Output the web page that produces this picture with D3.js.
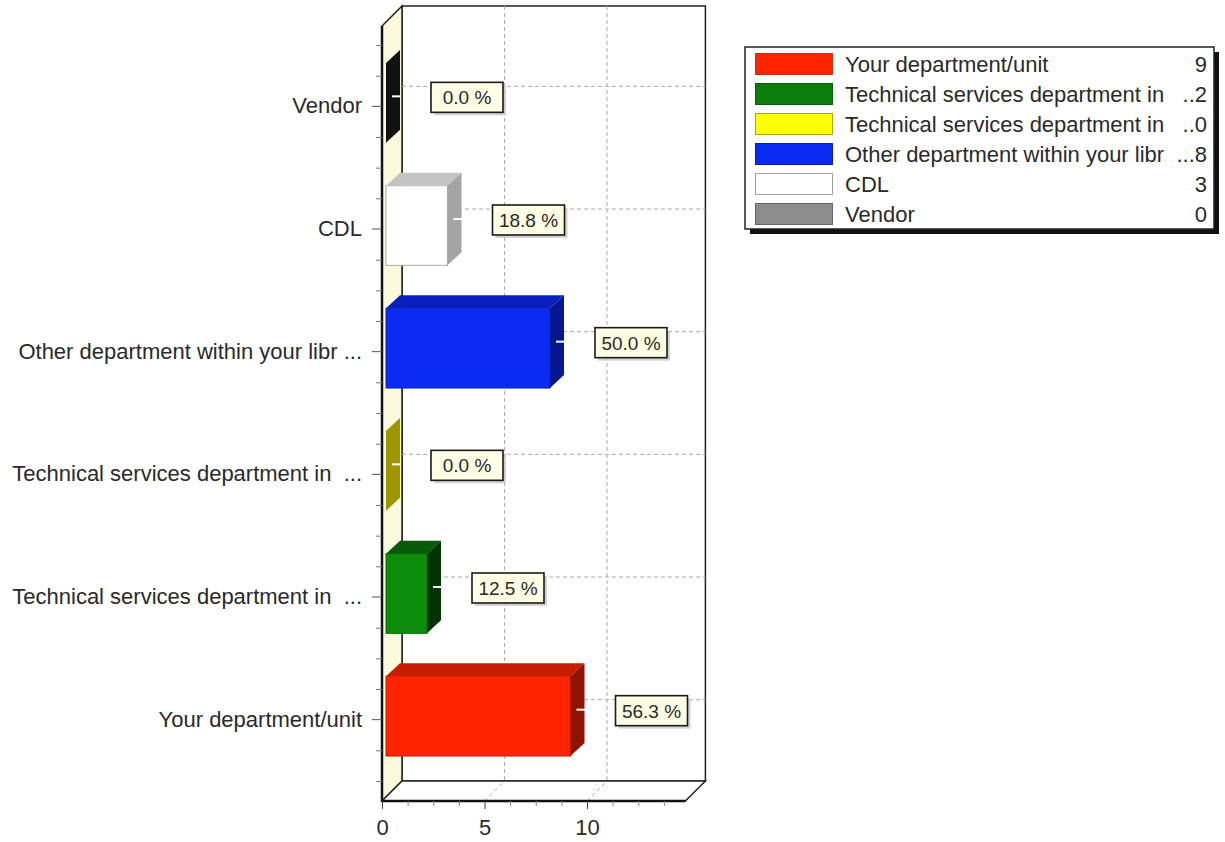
<!DOCTYPE html>
<html>
<head>
<meta charset="utf-8">
<script src="https://cdn.jsdelivr.net/npm/d3@7"></script>
<style>
  body { margin: 0; background: #fff; }
  text { font-family: "Liberation Sans", Arial, sans-serif; fill: #2a2a2a; white-space: pre; }
</style>
</head>
<body>
<div id="chart"></div>
<script>
// categories top to bottom, as on the axis
const categories = ["Vendor", "CDL", "Other department within your libr ...",
  "Technical services department in  ...", "Technical services department in  ...", "Your department/unit"];
const values = [0, 3, 8, 0, 2, 9];
const percentLabels = ["0.0 %", "18.8 %", "50.0 %", "0.0 %", "12.5 %", "56.3 %"];
const frontColors = ["#8a8a8a", "#ffffff", "#0a2cf2", "#ffff00", "#0b8c0b", "#ff2400"];
const topColors   = ["#222222", "#c4c4c4", "#0a1fc0", "#d8d000", "#075a07", "#c81c00"];
const sideColors  = ["#111111", "#a4a4a4", "#06168f", "#9e9600", "#033203", "#8f1300"];

// legend, in legend order
const legendNames = ["Your department/unit", "Technical services department in", "Technical services department in",
  "Other department within your libr", "CDL", "Vendor"];
const legendValues = ["9", "..2", "..0", "...8", "3", "0"];
const legendColors = ["#ff2400", "#0a7e0a", "#ffff00", "#0a2cf2", "#ffffff", "#8c8c8c"];
const legendStrokes = ["#c83010", "#0a5a0a", "#b0a800", "#0a1fa0", "#a0a0a0", "#666666"];

const xTicks = [0, 5, 10];

const width = 1225, height = 842;
const frontTop = 26, frontBottom = 801;
const depth = 20;        // wall depth
const barShift = { x: 4, y: -3.5 };  // bar front face inside the box
const barDepth = { x: 14, y: -13 };

const svg = d3.select("#chart").append("svg")
    .attr("width", width)
    .attr("height", height);

const idx = d3.range(categories.length);
const x = d3.scaleLinear().domain([0, 14.8]).range([382, 382 + 14.8 * 20.5]);
const y = d3.scaleBand().domain(idx).range([frontTop + depth - 1, frontBottom - depth]);
const yMinor = d3.scaleLinear().domain([0, categories.length]).range(y.range());

const xl = x.range()[0], xr = x.range()[1];

// back wall
svg.append("rect")
    .attr("x", xl + depth).attr("y", frontTop - depth)
    .attr("width", xr - xl).attr("height", frontBottom - frontTop)
    .attr("fill", "#fff").attr("stroke", "#222").attr("stroke-width", 1.5);

// left wall
svg.append("polygon")
    .attr("points", [[xl, frontTop], [xl + depth, frontTop - depth], [xl + depth, frontBottom - depth], [xl, frontBottom]].join(" "))
    .attr("fill", "#fdf9dc").attr("stroke", "#222").attr("stroke-width", 1.5);

// floor
svg.append("polygon")
    .attr("points", [[xl, frontBottom], [xl + depth, frontBottom - depth], [xr + depth, frontBottom - depth], [xr, frontBottom]].join(" "))
    .attr("fill", "#fff").attr("stroke", "#222").attr("stroke-width", 1.5);

const grid = svg.append("g")
    .attr("stroke", "#ababab").attr("stroke-dasharray", "4,3").attr("stroke-width", 1);

// vertical grid on back wall + floor
xTicks.filter(d => d > 0).forEach(function(d) {
    grid.append("line")
        .attr("x1", x(d) + depth).attr("x2", x(d) + depth)
        .attr("y1", frontTop - depth).attr("y2", frontBottom - depth);
    grid.append("line")
        .attr("x1", x(d)).attr("x2", x(d) + depth)
        .attr("y1", frontBottom).attr("y2", frontBottom - depth);
});

// horizontal grid on back wall
idx.forEach(function(i) {
    const cy = y(i) + y.bandwidth() / 2 - depth;
    grid.append("line")
        .attr("x1", xl + depth).attr("x2", xr + depth)
        .attr("y1", cy).attr("y2", cy);
});

// front edges
svg.append("line").attr("x1", xl).attr("x2", xl).attr("y1", frontTop).attr("y2", frontBottom)
    .attr("stroke", "#111").attr("stroke-width", 2.5);
svg.append("line").attr("x1", xl).attr("x2", xr).attr("y1", frontBottom).attr("y2", frontBottom)
    .attr("stroke", "#111").attr("stroke-width", 2.5);

// bars
const barH = y.bandwidth() * 0.65;
const bars = svg.append("g");
idx.forEach(function(i) {
    const cy = y(i) + y.bandwidth() / 2;
    const x0 = x(0) + barShift.x, x1 = x(values[i]) + barShift.x;
    const top = cy + barShift.y - barH / 2, bot = cy + barShift.y + barH / 2;
    const g = bars.append("g");

    if (x1 > x0) {
        g.append("rect")
            .attr("x", x0).attr("y", top)
            .attr("width", x1 - x0).attr("height", barH)
            .attr("fill", frontColors[i])
            .attr("stroke", i === 1 ? "#a8a8a8" : d3.color(frontColors[i]).darker(0.6))
            .attr("stroke-width", 1);
        g.append("polygon")
            .attr("points", [[x0, top], [x0 + barDepth.x, top + barDepth.y], [x1 + barDepth.x, top + barDepth.y], [x1, top]].join(" "))
            .attr("fill", topColors[i]);
    }
    g.append("polygon")
        .attr("points", [[x1, top], [x1 + barDepth.x, top + barDepth.y], [x1 + barDepth.x, bot + barDepth.y], [x1, bot]].join(" "))
        .attr("fill", sideColors[i]);

    // small white marker on side face
    const my = cy + barShift.y + barDepth.y / 2;
    g.append("line")
        .attr("x1", x1 + 6).attr("x2", x1 + 15)
        .attr("y1", my).attr("y2", my)
        .attr("stroke", "#fff").attr("stroke-width", 2);

    // value label
    const lx = x1 + 45, ly = cy - 9;
    const lab = g.append("g");
    const shadow = lab.append("rect").attr("fill", "#c8c8c8").attr("opacity", 0.8);
    const box = lab.append("rect").attr("fill", "#fffde3").attr("stroke", "#1a1a1a").attr("stroke-width", 1.6);
    const t = lab.append("text")
        .attr("y", ly).attr("dy", "0.36em")
        .attr("text-anchor", "middle")
        .style("font-size", "19px")
        .text(percentLabels[i]);
    const tw = Math.max(72, t.node().getComputedTextLength() + 10);
    t.attr("x", lx + tw / 2);
    box.attr("x", lx).attr("y", ly - 15).attr("width", tw).attr("height", 30);
    shadow.attr("x", lx + 3).attr("y", ly - 12).attr("width", tw).attr("height", 30);
});

// left axis
const yAxis = d3.axisLeft(y).tickSize(10).tickPadding(10).tickFormat(i => categories[i]);
const yAxisG = svg.append("g")
    .attr("transform", "translate(" + xl + ",0)")
    .call(yAxis);
yAxisG.select(".domain").remove();
yAxisG.selectAll("text").style("font-size", "22px").attr("fill", "#2a2a2a");
yAxisG.selectAll("line").attr("stroke", "#555");

const yMinorAxis = d3.axisLeft(yMinor)
    .tickValues(d3.range(0, categories.length + 0.01, 0.25).filter(d => d % 1 !== 0.5))
    .tickSize(6).tickFormat("");
const yMinorG = svg.append("g")
    .attr("transform", "translate(" + xl + ",0)")
    .call(yMinorAxis);
yMinorG.select(".domain").remove();
yMinorG.selectAll("line").attr("stroke", "#777");

// bottom axis
const xAxis = d3.axisBottom(x).tickValues(xTicks).tickSize(8).tickPadding(10).tickFormat(d3.format("d"));
const xAxisG = svg.append("g")
    .attr("transform", "translate(0," + frontBottom + ")")
    .call(xAxis);
xAxisG.select(".domain").remove();
xAxisG.selectAll("text").style("font-size", "22px").attr("fill", "#2a2a2a");
xAxisG.selectAll("line").attr("stroke", "#444");

const xMinorAxis = d3.axisBottom(x)
    .tickValues(d3.range(0, 14, 1.25).filter(d => d % 5 !== 0))
    .tickSize(5).tickFormat("");
const xMinorG = svg.append("g")
    .attr("transform", "translate(0," + frontBottom + ")")
    .call(xMinorAxis);
xMinorG.select(".domain").remove();
xMinorG.selectAll("line").attr("stroke", "#888");

// legend
const legend = svg.append("g").attr("transform", "translate(745,47)");
const lw = 469, lh = 182;
legend.append("rect").attr("x", 5).attr("y", 5).attr("width", lw).attr("height", lh).attr("fill", "#111");
legend.append("rect").attr("width", lw).attr("height", lh)
    .attr("fill", "#fff").attr("stroke", "#222").attr("stroke-width", 1.5);

legendNames.forEach(function(name, i) {
    const ry = 6 + i * 30;
    legend.append("rect")
        .attr("x", 10.5).attr("y", ry + 0.5)
        .attr("width", 77).attr("height", 21)
        .attr("fill", legendColors[i])
        .attr("stroke", legendStrokes[i]).attr("stroke-width", 1);
    legend.append("text")
        .attr("x", 100).attr("y", ry + 11).attr("dy", "0.36em")
        .style("font-size", "22px")
        .text(name);
    legend.append("text")
        .attr("x", 462).attr("y", ry + 11).attr("dy", "0.36em")
        .attr("text-anchor", "end")
        .style("font-size", "22px")
        .text(legendValues[i]);
});
</script>
</body>
</html>
